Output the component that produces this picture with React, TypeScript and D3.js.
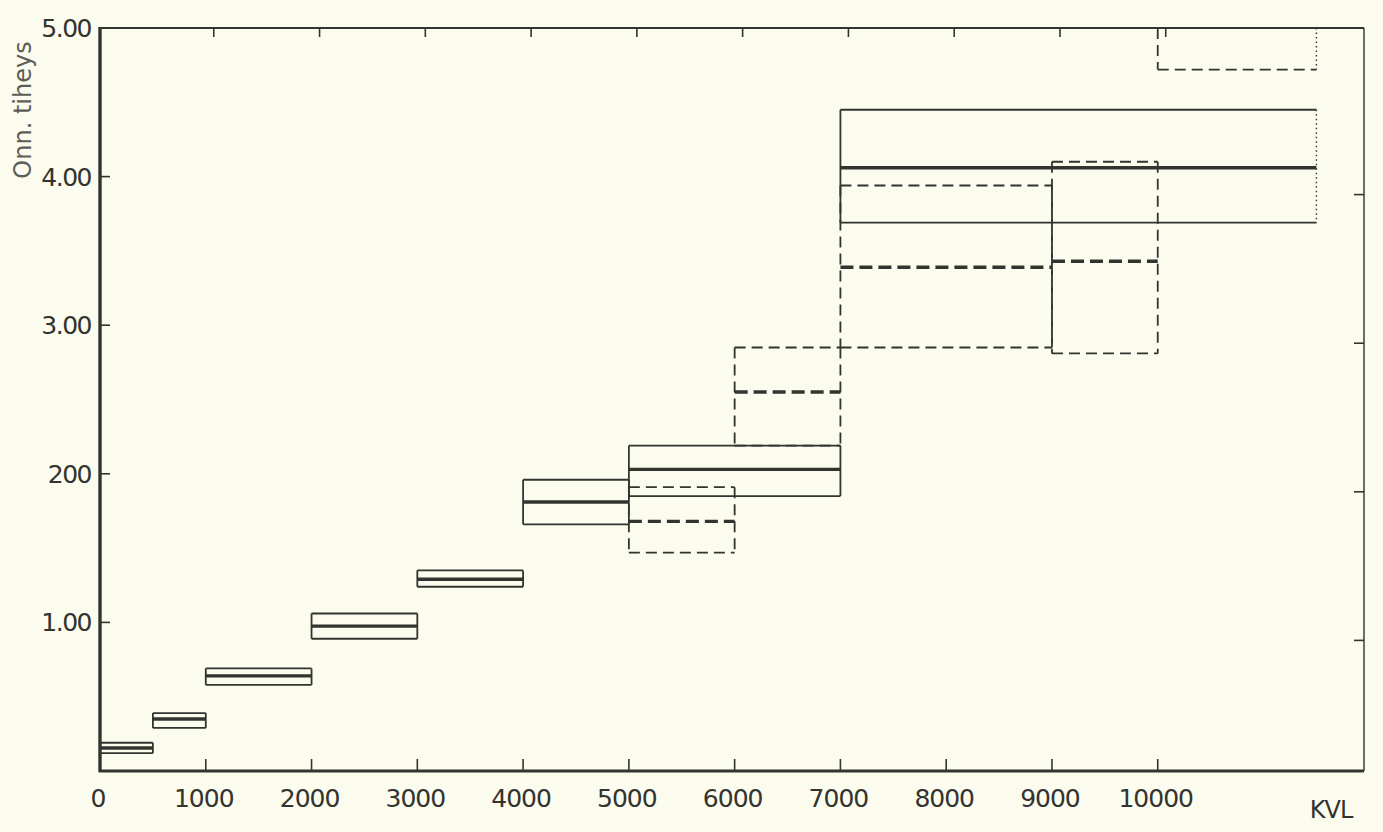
import React from 'react';
import * as d3 from 'd3';

// solid boxes (upper limit, mean, lower limit) per KVL class
const solidFrom = [0, 500, 1000, 2000, 3000, 4000, 5000, 7000];
const solidTo = [500, 1000, 2000, 3000, 4000, 5000, 7000, 11500];
const solidHigh = [0.19, 0.39, 0.69, 1.06, 1.35, 1.96, 2.19, 4.45];
const solidMid = [0.155, 0.35, 0.64, 0.975, 1.29, 1.81, 2.03, 4.06];
const solidLow = [0.12, 0.29, 0.58, 0.89, 1.24, 1.66, 1.85, 3.69];

// dashed boxes
const dashedFrom = [5000, 6000, 7000, 9000, 10000];
const dashedTo = [6000, 7000, 9000, 10000, 11500];
const dashedHigh = [1.91, 2.85, 3.94, 4.1, 5.0];
const dashedMid = [1.68, 2.55, 3.39, 3.43, null];
const dashedLow = [1.47, 2.19, 2.85, 2.81, 4.72];

const xTicks = [0, 1000, 2000, 3000, 4000, 5000, 6000, 7000, 8000, 9000, 10000];
const yTicks = [1, 2, 3, 4, 5];
const yTickLabels = ['1.00', '200', '3.00', '4.00', '5.00'];

const W = 1383;
const H = 832;
const INK = '#333330';
const PAPER = '#fbfbee';

const x = d3.scaleLinear().domain([0, 11950]).range([100, 1364]);
const y = d3.scaleLinear().domain([0, 5]).range([771, 28]);

type Box = { from: number; to: number; hi: number; mid: number | null; lo: number };

const zip = (f: number[], t: number[], h: number[], m: (number | null)[], l: number[]): Box[] =>
  f.map((v, i) => ({ from: v, to: t[i], hi: h[i], mid: m[i], lo: l[i] }));

const solid = zip(solidFrom, solidTo, solidHigh, solidMid, solidLow);
const dashed = zip(dashedFrom, dashedTo, dashedHigh, dashedMid, dashedLow);

const line = d3.line<[number, number]>();

const BoxMark = ({ b, dash }: { b: Box; dash: boolean }) => {
  const x0 = x(b.from);
  const x1 = x(b.to);
  const open = b.to > 10000; // right edge drawn dotted beyond last tick
  const thin = dash ? '11,6' : undefined;
  return (
    <g fill="none" stroke={INK}>
      <path d={line([[x0, y(b.hi)], [x1, y(b.hi)]])!} strokeWidth={1.8} strokeDasharray={thin} />
      <path d={line([[x0, y(b.lo)], [x1, y(b.lo)]])!} strokeWidth={1.8} strokeDasharray={thin} />
      <path d={line([[x0, y(b.hi)], [x0, y(b.lo)]])!} strokeWidth={1.8} strokeDasharray={thin} />
      <path
        d={line([[x1, y(b.hi)], [x1, y(b.lo)]])!}
        strokeWidth={open ? 1.4 : 1.8}
        strokeDasharray={open ? '1.5,3' : thin}
      />
      {b.mid !== null && (
        <path
          d={line([[x0, y(b.mid)], [x1, y(b.mid)]])!}
          strokeWidth={3.4}
          strokeDasharray={dash ? '13,6' : undefined}
        />
      )}
    </g>
  );
};

export default function App() {
  const left = x(0);
  const right = x.range()[1];
  const top = y(5);
  const bottom = y(0);
  return (
    <svg
      width={W}
      height={H}
      style={{ position: 'absolute', left: 0, top: 0, background: PAPER }}
      fontFamily="'DejaVu Sans', Verdana, sans-serif"
    >
      <rect width={W} height={H} fill={PAPER} />
      <defs>
        <clipPath id="plot">
          <rect x={left} y={top} width={right - left} height={bottom - top} />
        </clipPath>
      </defs>

      {/* frame */}
      <g stroke={INK} fill="none">
        <line x1={left} y1={top} x2={right} y2={top} strokeWidth={2} />
        <line x1={right} y1={top} x2={right} y2={bottom} strokeWidth={1.4} />
        <line x1={left} y1={top - 1} x2={left} y2={bottom + 1} strokeWidth={3.4} />
        <line x1={left - 1} y1={bottom} x2={right} y2={bottom} strokeWidth={3.2} />
        {xTicks.slice(1).map((t) => (
          <g key={t}>
            <line x1={x(t)} x2={x(t)} y1={bottom} y2={bottom - 12} strokeWidth={1.6} />
            <line x1={x(t) + 8} x2={x(t) + 8} y1={top} y2={top + 9} strokeWidth={1.6} />
          </g>
        ))}
        {yTicks.slice(0, 4).map((t) => (
          <g key={t}>
            <line x1={left} x2={left + 10} y1={y(t)} y2={y(t)} strokeWidth={1.6} />
            <line x1={right} x2={right - 10} y1={y(t) + 18} y2={y(t) + 18} strokeWidth={1.6} />
          </g>
        ))}
      </g>

      {/* boxes */}
      <g clipPath="url(#plot)">
        {solid.map((b, i) => (
          <BoxMark key={`s${i}`} b={b} dash={false} />
        ))}
        {dashed.map((b, i) => (
          <BoxMark key={`d${i}`} b={b} dash={true} />
        ))}
      </g>

      {/* labels */}
      <g fill={INK} fontSize={25} textAnchor="middle" letterSpacing={-1}>
        {xTicks.map((t) => (
          <text key={t} x={x(t) - 2} y={807}>
            {t}
          </text>
        ))}
        <text x={1331} y={818} fontSize={24}>
          KVL
        </text>
      </g>
      <g fill={INK} fontSize={25} textAnchor="end" letterSpacing={-1.5}>
        {yTicks.map((t, i) => (
          <text key={t} x={left - 9} y={y(t) + 9}>
            {yTickLabels[i]}
          </text>
        ))}
      </g>
      <text
        transform={`translate(31,110) rotate(-90)`}
        textAnchor="middle"
        fontSize={24}
        fill="#5e5e58"
      >
        Onn. tiheys
      </text>
    </svg>
  );
}
